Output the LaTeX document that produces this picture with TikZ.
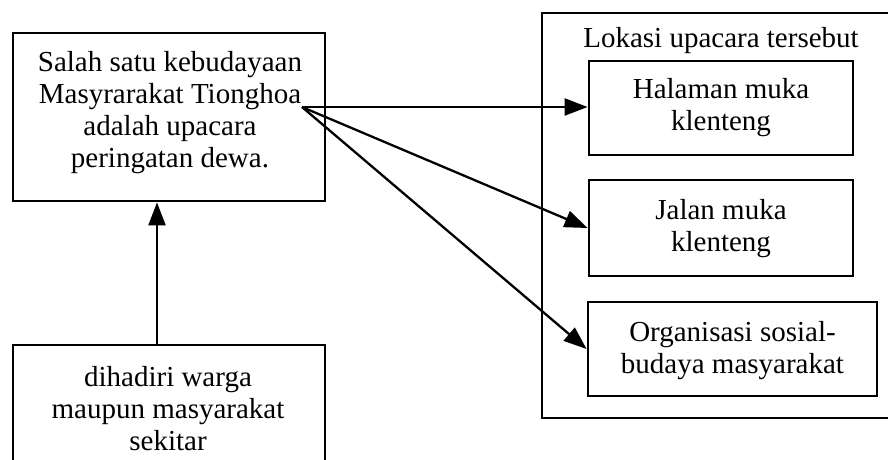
\documentclass[tikz,border=0pt]{standalone}
\usepackage{fontspec}
\setmainfont{Liberation Serif}
\usetikzlibrary{arrows.meta}
\begin{document}
\begin{tikzpicture}[x=1pt,y=-1pt,
  box/.style={draw,line width=2.8pt,rectangle,inner sep=0pt},
  txt/.style={align=center,inner sep=0pt,font=\fontsize{29}{32}\selectfont},
  conn/.style={line width=2.3pt,-{Triangle[length=23pt,width=17pt]}}]
\useasboundingbox (0,0) rectangle (888,459);
\clip (0,0) rectangle (888,459);
% boxes
\node[box,minimum width=312pt,minimum height=168pt] (main) at (169,117) {};
\node[txt] (maintxt) at (170,113) {Salah satu kebudayaan\\Masyrarakat Tionghoa\\adalah upacara\\peringatan dewa.};
\node[box,minimum width=312pt,minimum height=160pt] (bottom) at (169,425) {};
\node[txt] (bottomtxt) at (168,409) {dihadiri warga\\maupun masyarakat\\sekitar};
\node[box,minimum width=380pt,minimum height=405pt] (outer) at (732,215.5) {};
\node[txt] (outerlbl) at (721,41) {Lokasi upacara tersebut};
\node[box,minimum width=264pt,minimum height=94pt] (b1) at (721,108) {};
\node[txt] at (b1.center) {Halaman muka\\klenteng};
\node[box,minimum width=264pt,minimum height=96pt] (b2) at (721,228) {};
\node[txt] at ([yshift=-1pt]b2.center) {Jalan muka\\klenteng};
\node[box,minimum width=289pt,minimum height=94pt] (b3) at (732.5,349) {};
\node[txt] at ([yshift=-2pt]b3.center) {Organisasi sosial-\\budaya masyarakat};
% connectors
\coordinate (o) at (302,107);
\coordinate (up) at (157,345);
\draw[conn] (o) -- (b1.west |- o);
\draw[conn] (o) -- (b2.west);
\draw[conn] (o) -- (b3.west);
\draw[conn] (up) -- (main.south -| up);
\end{tikzpicture}
\end{document}
